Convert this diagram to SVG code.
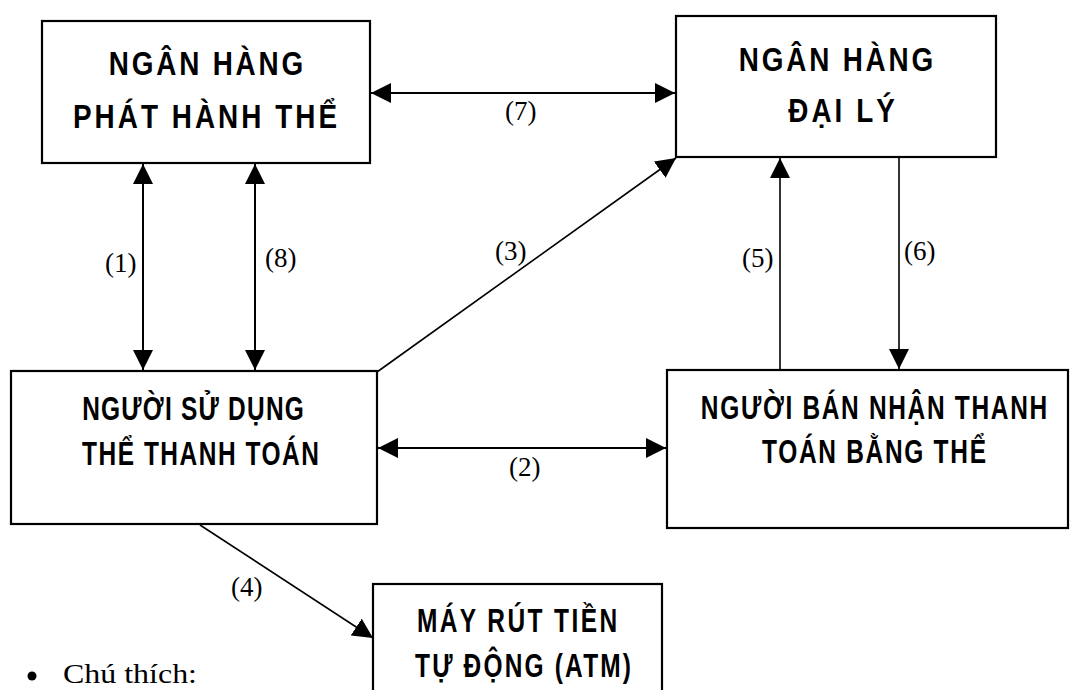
<svg xmlns="http://www.w3.org/2000/svg" width="1071" height="690" viewBox="0 0 1071 690">
<style>
.box{fill:#fff;stroke:#000;stroke-width:2.2}
.t{font-family:"Liberation Sans",Arial,sans-serif;font-weight:bold;font-size:34px;fill:#000;text-anchor:middle}
.c{stroke:#000;stroke-width:2;fill:none}
.thin{stroke-width:1.6}
.lbl{font-family:"Liberation Serif","Times New Roman",serif;font-size:27px;fill:#000}
</style>
<defs>
<marker id="ah" markerUnits="userSpaceOnUse" markerWidth="20" markerHeight="20" refX="20" refY="10" orient="auto-start-reverse" viewBox="0 0 20 20"><path d="M0,0 L20,10 L0,20 z" fill="#000"/></marker>
</defs>
<rect width="1071" height="690" fill="#fff"/>
<g id="issuer">
<rect class="box" x="42" y="21" width="328" height="142"/>
<text class="t" transform="translate(206,75) scale(0.82,1)" font-size="35" textLength="237" lengthAdjust="spacing">NGÂN HÀNG</text>
<text class="t" transform="translate(205,128) scale(0.82,1)" font-size="35" textLength="322" lengthAdjust="spacing">PHÁT HÀNH THỂ</text>
</g>
<g id="agent">
<rect class="box" x="676" y="16" width="320" height="141"/>
<text class="t" transform="translate(836,71) scale(0.82,1)" font-size="35" textLength="237" lengthAdjust="spacing">NGÂN HÀNG</text>
<text class="t" transform="translate(841.5,122) scale(0.82,1)" font-size="35" textLength="130" lengthAdjust="spacing">ĐẠI LÝ</text>
</g>
<g id="user">
<rect class="box" x="11" y="371" width="366" height="153"/>
<text class="t" transform="translate(193,420) scale(0.72,1)" textLength="308" lengthAdjust="spacing">NGƯỜI SỬ DỤNG</text>
<text class="t" transform="translate(200.5,465) scale(0.72,1)" textLength="329" lengthAdjust="spacing">THỂ THANH TOÁN</text>
</g>
<g id="merchant">
<rect class="box" x="667" y="370" width="401" height="158"/>
<text class="t" transform="translate(874,419) scale(0.72,1)" textLength="481" lengthAdjust="spacing">NGƯỜI BÁN NHẬN THANH</text>
<text class="t" transform="translate(874,463) scale(0.72,1)" textLength="311" lengthAdjust="spacing">TOÁN BẰNG THỂ</text>
</g>
<g id="atm">
<rect class="box" x="373" y="584" width="289" height="120"/>
<text class="t" transform="translate(517,632) scale(0.72,1)" font-size="32" textLength="278" lengthAdjust="spacing">MÁY RÚT TIỀN</text>
<text class="t" transform="translate(523,677) scale(0.72,1)" font-size="32" textLength="300" lengthAdjust="spacing">TỰ ĐỘNG (ATM)</text>
</g>
<g id="connectors">
<line class="c" x1="371" y1="93" x2="675" y2="93" marker-start="url(#ah)" marker-end="url(#ah)"/>
<line class="c" x1="143" y1="164" x2="143" y2="370" marker-start="url(#ah)" marker-end="url(#ah)"/>
<line class="c" x1="255" y1="164" x2="255" y2="370" marker-start="url(#ah)" marker-end="url(#ah)"/>
<line class="c thin" x1="377" y1="372" x2="676" y2="158" marker-end="url(#ah)"/>
<line class="c" x1="378" y1="448" x2="666" y2="448" marker-start="url(#ah)" marker-end="url(#ah)"/>
<line class="c thin" x1="780" y1="369" x2="780" y2="158" marker-end="url(#ah)"/>
<line class="c thin" x1="899" y1="157" x2="899" y2="369" marker-end="url(#ah)"/>
<line class="c thin" x1="200" y1="525" x2="373" y2="638" marker-end="url(#ah)"/>
</g>
<g id="labels">
<text class="lbl" x="505" y="120">(7)</text>
<text class="lbl" x="105" y="272">(1)</text>
<text class="lbl" x="265" y="267">(8)</text>
<text class="lbl" x="495" y="260">(3)</text>
<text class="lbl" x="509" y="476">(2)</text>
<text class="lbl" x="742" y="267">(5)</text>
<text class="lbl" x="904" y="260">(6)</text>
<text class="lbl" x="231" y="596">(4)</text>
</g>
<g id="legend">
<circle cx="32" cy="676" r="4.5" fill="#000"/>
<text class="lbl" x="63" y="683" font-size="32" textLength="134" lengthAdjust="spacingAndGlyphs">Chú thích:</text>
</g>
</svg>
